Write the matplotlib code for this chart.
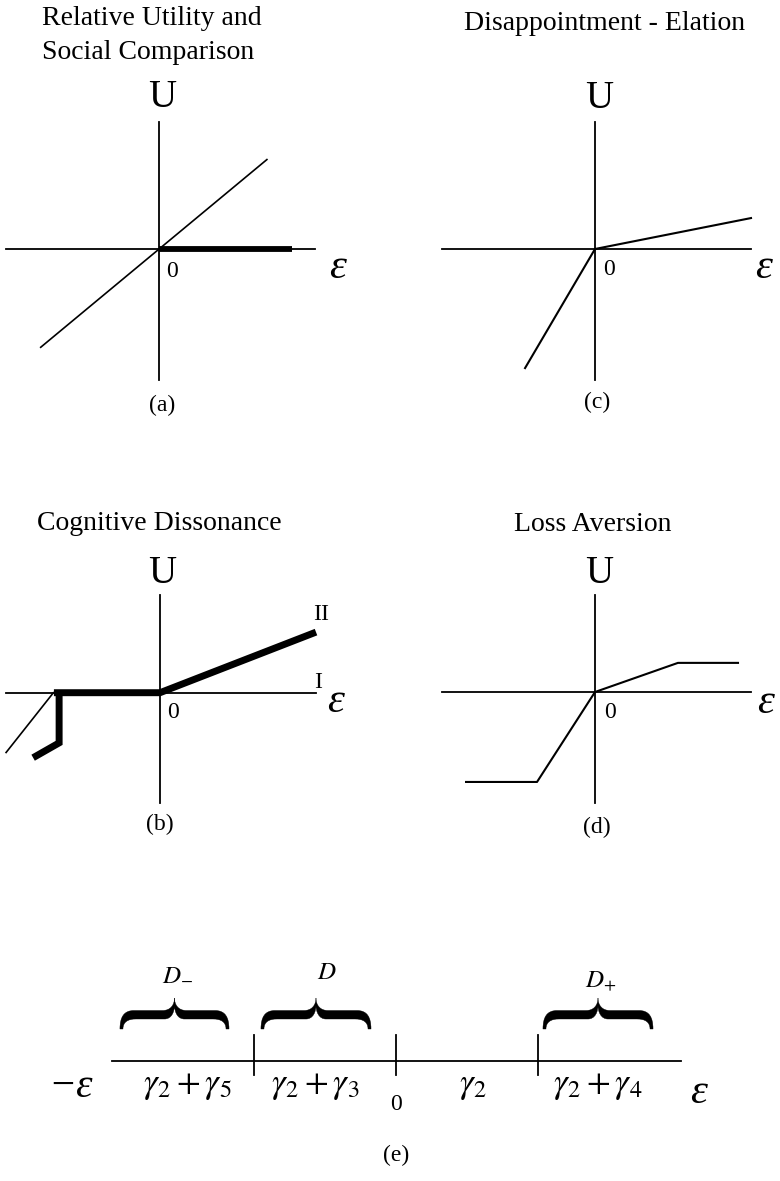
import numpy as np
import matplotlib.pyplot as plt
from matplotlib.path import Path
from matplotlib.patches import PathPatch

plt.rcParams['font.family'] = ['Liberation Serif', 'DejaVu Serif']
plt.rcParams['mathtext.fontset'] = 'stix'

W, H = 780, 1181
S = 26.0     # pixels per unit, panels a-d
SE = 142.0   # pixels per unit, panel e

# (a) relative utility / social comparison
a_xaxis = [-5.9, 6.0]
a_yaxis = [-5.05, 4.9]
a_diag_x = [-4.55, 4.15]
a_diag_y = [-3.78, 3.44]
a_thick_x = [0.0, 5.1]
a_thick_y = [0.0, 0.0]

# (c) disappointment - elation
c_xaxis = [-5.9, 6.0]
c_yaxis = [-5.05, 4.9]
c_curve_x = [-2.69, 0.0, 6.0]
c_curve_y = [-4.58, 0.0, 1.19]

# (b) cognitive dissonance
b_xaxis = [-5.92, 6.0]
b_yaxis = [-4.24, 3.75]
b_thick_x = [-4.08, 0.0, 6.0]
b_thick_y = [0.0, 0.0, 2.33]
b_drop_x = [-3.88, -3.88, -4.88]
b_drop_y = [-0.1, -1.93, -2.5]
b_thin_x = [-4.1, -5.92]
b_thin_y = [0.0, -2.3]

# (d) loss aversion
d_xaxis = [-5.9, 6.0]
d_yaxis = [-4.27, 3.73]
d_curve_x = [-4.96, -2.23, 0.0, 3.19, 5.5]
d_curve_y = [-3.46, -3.46, 0.0, 1.12, 1.12]

# (e) regions on the epsilon line
e_line = [-2.0, 2.01]
e_ticks = [-1, 0, 1]
e_cell_x = [-1.47, -0.57, 0.54, 1.42]
e_cell_labels = [r'$\gamma_2+\gamma_5$', r'$\gamma_2+\gamma_3$',
                 r'$\gamma_2$', r'$\gamma_2+\gamma_4$']
e_brace_x0 = [-1.944, -0.951, 1.035]
e_brace_x1 = [-1.176, -0.176, 1.810]
e_brace_labels = [r'$D_{-}$', r'$D$', r'$D_{+}$']
e_brace_label_x = [-1.54, -0.49, 1.44]
e_brace_label_y = [0.61, 0.62, 0.565]

fig = plt.figure(figsize=(W / 100, H / 100), dpi=100)


def panel(ox, oy, scale):
    ax = fig.add_axes([0, 0, 1, 1])
    ax.set_xlim(-ox / scale, (W - ox) / scale)
    ax.set_ylim(-(H - oy) / scale, oy / scale)
    ax.axis('off')
    ax.patch.set_alpha(0)
    return ax


def axes_cross(ax, xr, yr):
    ax.plot(xr, [0, 0], color='black', lw=1.3)
    ax.plot([0, 0], yr, color='black', lw=1.3)


def brace(ax, x0, x1, ybase, scale):
    # filled curly brace, shape given in pixels then scaled to data units
    w = (x1 - x0) * scale
    m = w / 2
    top, bot, tip, vee = 18.5, 10.0, 31.0, 24.0
    pts = [
        (0, 0), (0, 12), (4, top), (14, top),
        (m - 12, top),
        (m - 4, top), (m, 24), (m, tip),
        (m, 24), (m + 4, top), (m + 12, top),
        (w - 14, top),
        (w - 4, top), (w, 12), (w, 0),
        (w - 3, 0),
        (w - 3, 7), (w - 8, bot), (w - 16, bot),
        (m + 10, bot),
        (m + 3, bot), (m, 17), (m, vee),
        (m, 17), (m - 3, bot), (m - 10, bot),
        (16, bot),
        (8, bot), (3, 7), (3, 0),
        (0, 0),
    ]
    C, L = Path.CURVE4, Path.LINETO
    codes = [Path.MOVETO, C, C, C, L, C, C, C, C, C, C, L, C, C, C, L,
             C, C, C, L, C, C, C, C, C, C, L, C, C, C, Path.CLOSEPOLY]
    verts = [(x0 + u / scale, ybase + v / scale) for u, v in pts]
    ax.add_patch(PathPatch(Path(verts, codes), facecolor='black',
                           edgecolor='black', lw=0.3))


# ---- (a)
ax = panel(159, 249, S)
axes_cross(ax, a_xaxis, a_yaxis)
ax.plot(a_diag_x, a_diag_y, color='black', lw=1.2)
ax.plot(a_thick_x, a_thick_y, color='black', lw=4.2, solid_capstyle='butt')
ax.text(-4.5, 8.85, 'Relative Utility and', fontsize=20, ha='left', va='center')
ax.text(-4.5, 7.55, 'Social Comparison', fontsize=20, ha='left', va='center')
ax.text(0.12, 5.46, 'U', fontsize=28, ha='center', va='baseline')
ax.text(0.5, -1.08, '0', fontsize=17, ha='center', va='baseline')
ax.text(6.88, -1.12, 'ε', fontsize=31, style='italic', ha='center', va='baseline')
ax.text(0.12, -6.0, '(a)', fontsize=17, ha='center', va='center')

# ---- (c)
ax = panel(595, 249, S)
axes_cross(ax, c_xaxis, c_yaxis)
ax.plot(c_curve_x, c_curve_y, color='black', lw=1.5)
ax.text(0.35, 8.68, 'Disappointment - Elation', fontsize=20, ha='center', va='center')
ax.text(0.15, 5.42, 'U', fontsize=28, ha='center', va='baseline')
ax.text(0.55, -1.0, '0', fontsize=17, ha='center', va='baseline')
ax.text(6.5, -1.12, 'ε', fontsize=31, style='italic', ha='center', va='baseline')
ax.text(0.08, -5.9, '(c)', fontsize=17, ha='center', va='center')

# ---- (b)
ax = panel(160, 692.7, S)
axes_cross(ax, b_xaxis, b_yaxis)
ax.plot(b_thin_x, b_thin_y, color='black', lw=1.2)
ax.plot(b_thick_x, b_thick_y, color='black', lw=5, solid_capstyle='butt',
        solid_joinstyle='miter')
ax.plot(b_drop_x, b_drop_y, color='black', lw=5, solid_capstyle='butt',
        solid_joinstyle='miter')
ax.text(-0.04, 6.52, 'Cognitive Dissonance', fontsize=20, ha='center', va='center')
ax.text(0.07, 4.22, 'U', fontsize=28, ha='center', va='baseline')
ax.text(0.5, -0.97, '0', fontsize=17, ha='center', va='baseline')
ax.text(6.77, -0.74, 'ε', fontsize=31, style='italic', ha='center', va='baseline')
ax.text(6.19, 2.8, 'II', fontsize=17, ha='center', va='baseline')
ax.text(6.08, 0.18, 'I', fontsize=17, ha='center', va='baseline')
ax.text(0.0, -5.08, '(b)', fontsize=17, ha='center', va='center')

# ---- (d)
ax = panel(595, 692, S)
axes_cross(ax, d_xaxis, d_yaxis)
ax.plot(d_curve_x, d_curve_y, color='black', lw=1.5)
ax.text(-0.08, 6.45, 'Loss Aversion', fontsize=20, ha='center', va='center')
ax.text(0.15, 4.19, 'U', fontsize=28, ha='center', va='baseline')
ax.text(0.58, -1.0, '0', fontsize=17, ha='center', va='baseline')
ax.text(6.55, -0.81, 'ε', fontsize=31, style='italic', ha='center', va='baseline')
ax.text(0.08, -5.2, '(d)', fontsize=17, ha='center', va='center')

# ---- (e)
ax = panel(396, 1061, SE)
ax.plot(e_line, [0, 0], color='black', lw=1.3)
for t in e_ticks:
    ax.plot([t, t], [-0.099, 0.183], color='black', lw=1.3)
for x, lab in zip(e_cell_x, e_cell_labels):
    ax.text(x, -0.17, lab, fontsize=25, ha='center', va='center')
for x0, x1 in zip(e_brace_x0, e_brace_x1):
    brace(ax, x0, x1, (1061 - 1029) / SE, SE)
for x, y, lab in zip(e_brace_label_x, e_brace_label_y, e_brace_labels):
    ax.text(x, y, lab, fontsize=18, ha='center', va='center')
ax.text(-2.134, -0.254, '−ε', fontsize=30, style='italic', ha='right', va='baseline')
ax.text(2.13, -0.296, 'ε', fontsize=31, style='italic', ha='center', va='baseline')
ax.text(0.0, -0.345, '0', fontsize=17, ha='center', va='baseline')
ax.text(0.0, -0.662, '(e)', fontsize=17, ha='center', va='center')

fig.savefig('out.png', dpi=100)
